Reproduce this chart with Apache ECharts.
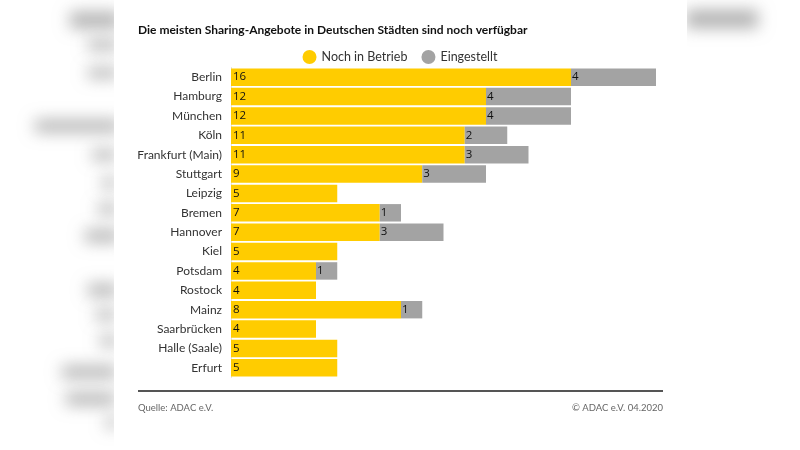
<!DOCTYPE html>
<html><head><meta charset="utf-8">
<script src="https://cdn.jsdelivr.net/npm/echarts@6/dist/echarts.min.js"></script>
<style>html,body{margin:0;padding:0;background:#fff}#c{width:800px;height:450px}</style>
</head><body><div id="c"></div>
<script>
const cities = ['Berlin','Hamburg','München','Köln','Frankfurt (Main)','Stuttgart','Leipzig','Bremen','Hannover','Kiel','Potsdam','Rostock','Mainz','Saarbrücken','Halle (Saale)','Erfurt'];
const active = [16,12,12,11,11,9,5,7,7,5,4,4,8,4,5,5];
const stopped = [4,4,4,2,3,3,null,1,3,null,1,null,1,null,null,null];
const seriesNames = ['Noch in Betrieb','Eingestellt'];
const titleText = 'Die meisten Sharing-Angebote in Deutschen Städten sind noch verfügbar';
const sourceText = 'Quelle: ADAC e.V.';
const copyText = '© ADAC e.V. 04.2020';

const FONT = 'Lato, "Open Sans", sans-serif';
const NUMFONT = '"Open Sans", Lato, sans-serif';
// decorative blurred backdrop blobs [x, y, w, h]
const blobs = [[70,12,50,16],[88,40,30,10],[88,68,30,10],[35,120,85,12],[92,150,25,10],[102,178,15,10],[98,204,20,10],[85,230,35,12],[88,284,30,12],[96,310,20,10],[100,336,18,10],[62,366,55,12],[66,393,50,12],[106,418,12,10],[686,10,72,18]];
const graphics = blobs.map(b => ({
  type:'rect', z:-10, shape:{x:b[0]-2000, y:b[1], width:b[2], height:b[3]},
  style:{fill:'#bbb', shadowColor:'rgba(150,150,150,0.75)', shadowBlur:16, shadowOffsetX:2000}
}));
graphics.push({type:'rect', z:-5, shape:{x:114,y:0,width:573,height:450}, style:{fill:'#fff'}});
graphics.push({type:'rect', z:1, shape:{x:138,y:390,width:525,height:2}, style:{fill:'#555'}});
graphics.push({type:'text', z:1, left:138, top:403, style:{text:sourceText, font:'9.5px '+FONT, fill:'#666'}});
graphics.push({type:'text', z:1, right:137, top:403, style:{text:copyText, font:'9.5px '+FONT, fill:'#666', align:'right'}});

const chart = echarts.init(document.getElementById('c'), null, {renderer:'canvas'});
chart.setOption({
  animation:false,
  backgroundColor:'#fff',
  title:{text:titleText, left:138, top:24, padding:0, textStyle:{fontFamily:FONT, fontSize:12, fontWeight:'bold', color:'#111'}},
  legend:{data:seriesNames, left:'center', top:50, padding:0, icon:'circle', itemWidth:14, itemHeight:14, itemGap:14,
    textStyle:{fontFamily:FONT, fontSize:12.5, color:'#333'}},
  graphic:graphics,
  grid:{left:231, right:144, top:67.5, bottom:72.5, containLabel:false},
  xAxis:{type:'value', min:0, max:20, show:false},
  yAxis:{type:'category', data:cities, inverse:true,
    axisLine:{show:true, lineStyle:{color:'#e2e2e2', width:1}}, axisTick:{show:false},
    axisLabel:{fontFamily:FONT, fontSize:12, color:'#333', margin:9}},
  series:[
    {name:seriesNames[0], type:'bar', stack:'t', data:active, barCategoryGap:'10%', itemStyle:{color:'#FFCC00'},
      label:{show:true, position:'insideLeft', distance:2, color:'#111', fontFamily:NUMFONT, fontSize:11.5}},
    {name:seriesNames[1], type:'bar', stack:'t', data:stopped, itemStyle:{color:'#A3A3A3'},
      label:{show:true, position:'insideLeft', distance:1, color:'#111', fontFamily:NUMFONT, fontSize:11.5,
        formatter:p => p.value == null ? '' : p.value}}
  ]
});
</script></body></html>
